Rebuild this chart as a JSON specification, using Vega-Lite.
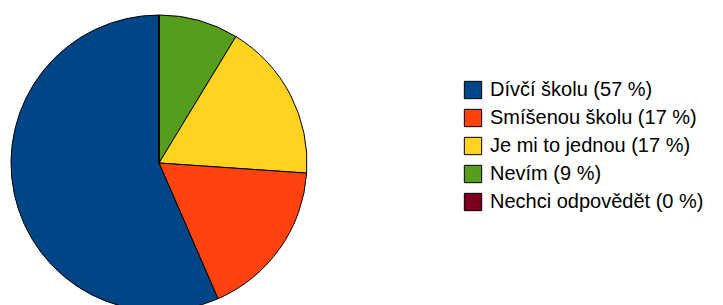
{
  "$schema": "https://vega.github.io/schema/vega-lite/v6.json",
  "width": 318,
  "height": 326,
  "padding": 0,
  "autosize": {"type": "pad"},
  "background": "white",
  "view": {"stroke": null},
  "data": {
    "values": [
      {"answer": "Nevím (9 %)", "count": 2, "order": 1},
      {"answer": "Je mi to jednou (17 %)", "count": 4, "order": 2},
      {"answer": "Smíšenou školu (17 %)", "count": 4, "order": 3},
      {"answer": "Dívčí školu (57 %)", "count": 13, "order": 4},
      {"answer": "Nechci odpovědět (0 %)", "count": 0, "order": 5}
    ]
  },
  "mark": {"type": "arc", "radius": 148, "stroke": "black", "strokeWidth": 1},
  "encoding": {
    "theta": {"field": "count", "type": "quantitative", "stack": true},
    "order": {"field": "order", "type": "quantitative"},
    "color": {
      "field": "answer",
      "type": "nominal",
      "scale": {
        "domain": ["Dívčí školu (57 %)", "Smíšenou školu (17 %)", "Je mi to jednou (17 %)", "Nevím (9 %)", "Nechci odpovědět (0 %)"],
        "range": ["#004586", "#ff420e", "#ffd320", "#579d1c", "#7e0021"]
      },
      "legend": {
        "title": null,
        "orient": "none",
        "legendX": 463,
        "legendY": 80,
        "symbolType": "square",
        "symbolSize": 300,
        "symbolStrokeColor": "black",
        "symbolStrokeWidth": 1,
        "symbolOpacity": 1,
        "labelFont": "Liberation Sans",
        "labelFontSize": 20,
        "labelColor": "black",
        "labelOffset": 7,
        "rowPadding": 6,
        "labelLimit": 400
      }
    }
  }
}
